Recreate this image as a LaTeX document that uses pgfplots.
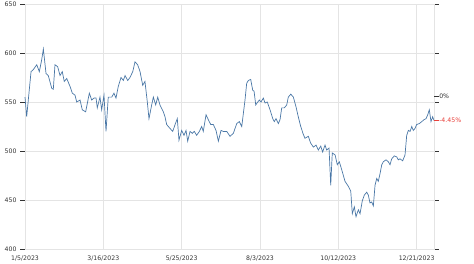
\documentclass[border=0pt]{standalone}
\usepackage{fontspec}
\setmainfont{DejaVu Sans}
\usepackage{pgfplots}
\pgfplotsset{compat=1.18}
\definecolor{linecol}{HTML}{4A77A6}
\definecolor{gridcol}{HTML}{E4E4E4}
\definecolor{labcol}{HTML}{333333}
\definecolor{redcol}{HTML}{E8413C}
\begin{document}
\begin{tikzpicture}
\begin{axis}[
  scale only axis, width=409pt, height=245pt,
  xmin=0, xmax=365.5, ymin=400, ymax=650,
  xtick={0,70,140,210,280,350},
  xticklabels={1/5/2023,3/16/2023,5/25/2023,8/3/2023,10/12/2023,12/21/2023},
  ytick={400,450,500,550,600,650},
  grid=major, major grid style={draw=gridcol, line width=0.6pt},
  axis line style={draw=gridcol, line width=0.6pt},
  ytick style={draw=labcol, line width=0.5pt},
  xtick style={draw=none},
  tick align=outside, major tick length=4.5pt,
  tick label style={font=\fontsize{6.2}{7}\selectfont, text=labcol},
  yticklabel style={xshift=-0.5pt},
  xticklabel style={yshift=1pt},
  /pgf/number format/assume math mode=true,
  clip=false,
]
\addplot[linecol, line width=0.7pt] coordinates {
(0,555) (1.5,535) (5.4,581) (7.4,583) (10.5,588) (12.8,581) (14.9,593) (16.4,604)
(18.8,579) (20.8,577) (23.9,564) (25.3,563) (26.8,588) (29.2,586) (31.3,577) (33.3,581)
(35.1,571) (37.3,574) (40.2,566) (42.3,559) (44.7,557) (46.2,550) (49.2,552) (51.2,542)
(54.2,540) (57.5,559) (59.6,552) (61.7,554) (63.5,554) (64.6,544) (67.0,555) (68.5,542)
(70.6,557) (72.4,520) (74.4,555) (77.5,555) (79.5,559) (81.3,554) (83.4,566) (85.8,575)
(87.9,572) (89.4,577) (91.8,572) (93.8,575) (96.3,581) (98.3,591) (100.7,588) (102.8,581)
(105.2,567) (107.2,571) (109.3,550) (110.8,533) (113.2,547) (114.7,555) (116.8,547) (118.6,555)
(120.6,547) (123.6,540) (125.1,535) (126.6,527) (129.6,523) (132,520) (134.1,527) (136.1,533)
(137.6,511) (140,521) (142.1,516) (143.9,521) (145.4,510) (147.5,520) (149.5,518) (151.3,520)
(153.4,516) (155.8,520) (157.9,525) (159.3,520) (161.8,537) (163.8,532) (166,527) (168.3,527)
(170.7,521) (172.8,510) (175.2,521) (177.2,520) (180.3,520) (183.2,515) (186.2,518) (189.2,528)
(191.5,530) (193.7,525) (195.1,538) (196.6,552) (198.1,569) (199.6,572) (201.7,573) (203.5,562)
(204.7,561) (206.2,547) (208,550) (209.4,552) (210.9,550) (213,554) (214.5,549) (216.5,550)
(219,542) (221.4,533) (222.8,530) (224.3,533) (226.4,528) (227.9,532) (229.4,544) (231.7,544)
(233.9,547) (235.3,555) (237.5,558) (239.8,555) (242.2,545) (244.2,535) (246.4,525) (248.7,517)
(250.2,513) (253.2,515) (255.3,508) (257.7,504) (260.1,506) (262.1,501) (264.3,505) (266,499)
(268.1,506) (269.6,501) (271.7,503) (273.2,465) (274.6,498) (277.1,496) (279.1,486) (280.9,489)
(283,481) (286,469) (288.9,464) (291.1,459) (292.5,436) (294.3,443) (295.8,433) (297.9,440)
(299.4,436) (301.4,449) (303.2,455) (305.4,458) (306.8,455) (308.3,447) (309.8,448) (311.3,444)
(312.8,465) (314.3,472) (315.7,469) (317.3,477) (318.8,486) (320.2,489) (322.6,491) (324.7,489)
(326.2,486) (327.7,492) (330,495) (332.2,494) (333.6,491) (335.1,492) (337.5,490) (339.6,496)
(341.1,516) (342.6,521) (344.1,520) (345.6,525) (347,521) (348.5,523) (350,527) (352.4,528)
(354.6,530) (356.6,532) (358.4,533) (359.9,537) (361.3,542) (362.8,530) (364.3,535) (365.5,531)
};
\coordinate (zero) at (axis cs:365.5,556);
\coordinate (last) at (axis cs:365.5,531);
\end{axis}
\draw[labcol, line width=0.5pt] (zero) -- ([xshift=4.5pt]zero) node[right, inner sep=0.5pt, font=\fontsize{6.2}{7}\selectfont, text=labcol] {0\%};
\draw[redcol, line width=0.5pt] (last) -- ([xshift=4.5pt]last) node[right, inner sep=0.5pt, font=\fontsize{6.2}{7}\selectfont, text=redcol] {-4.45\%};
\pgfresetboundingbox
\path[use as bounding box] ([xshift=-25pt,yshift=-14pt]current axis.south west) rectangle ([xshift=40pt,yshift=4pt]current axis.north east);
\end{tikzpicture}
\end{document}
